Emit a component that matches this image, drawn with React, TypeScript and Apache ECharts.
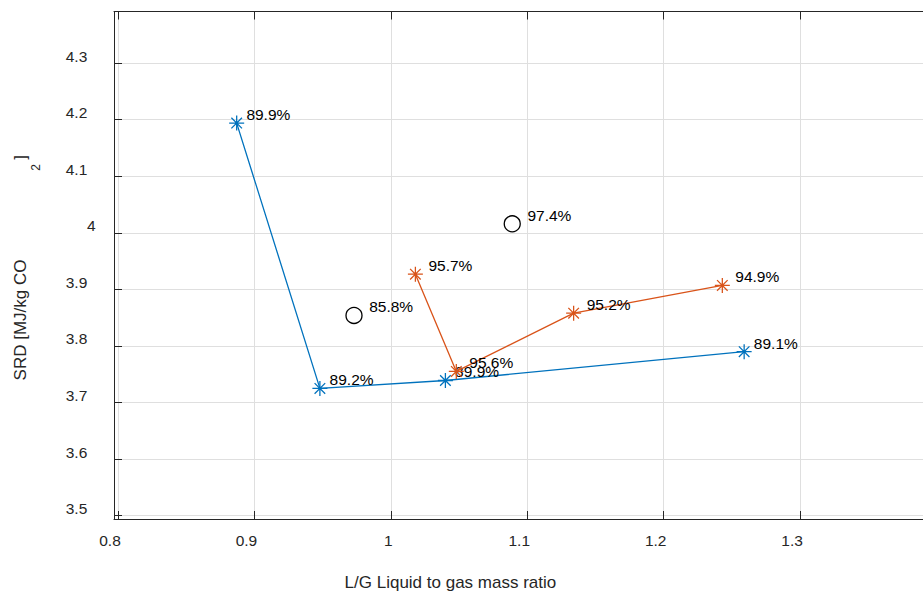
import React, { useEffect, useRef } from "react";
import * as echarts from "echarts";

// L/G ratio vs. specific reboiler duty, with capture-rate annotations
const blueLG = [0.887, 0.948, 1.04, 1.259];
const blueSRD = [4.194, 3.725, 3.739, 3.79];
const blueCapture = ["89.9%", "89.2%", "89.9%", "89.1%"];

const orangeLG = [1.018, 1.048, 1.134, 1.243];
const orangeSRD = [3.927, 3.755, 3.858, 3.907];
const orangeCapture = ["95.7%", "95.6%", "95.2%", "94.9%"];

const refLG = [0.973, 1.089];
const refSRD = [3.854, 4.016];
const refCapture = ["85.8%", "97.4%"];

const xTicks = [0.8, 0.9, 1.0, 1.1, 1.2, 1.3];
const yTicks = [3.5, 3.6, 3.7, 3.8, 3.9, 4.0, 4.1, 4.2, 4.3];

const FONT = "'Liberation Sans', Arial, Helvetica, sans-serif";
const AXIS_COLOR = "#262626";
const GRID_COLOR = "#dfdfdf";
const BLUE = "#0072BD";
const ORANGE = "#D95319";

// eight-armed asterisk marker built from four thin bars
const ASTERISK =
  "path://M-0.085,-1L0.085,-1L0.085,1L-0.085,1Z" +
  "M-1,-0.085L1,-0.085L1,0.085L-1,0.085Z" +
  "M-0.767,-0.647L-0.647,-0.767L0.767,0.647L0.647,0.767Z" +
  "M-0.647,0.767L-0.767,0.647L0.647,-0.767L0.767,-0.647Z";

const fmt = (v: number) => String(Math.round(v * 10) / 10);
const zip = (xs: number[], ys: number[]) => xs.map((x, i) => [x, ys[i]]);

const pointLabel = (texts: string[], distance: number) => ({
  show: true,
  position: "right",
  distance,
  offset: [0, -8.5],
  formatter: (p: any) => texts[p.dataIndex],
  color: "#000",
  opacity: 1,
  textBorderWidth: 0,
  textBorderColor: "transparent",
  fontSize: 15.5,
  fontFamily: FONT,
});

export default function App() {
  const ref = useRef<HTMLDivElement>(null);

  useEffect(() => {
    if (!ref.current) return;
    const chart = echarts.init(ref.current, null, { renderer: "svg" });

    const tickStyle = {
      show: true,
      inside: true,
      length: 8,
      lineStyle: { color: AXIS_COLOR, width: 1 },
    };

    chart.setOption({
      animation: false,
      backgroundColor: "#fff",
      grid: {
        left: 114,
        top: 11.5,
        width: 822.5,
        bottom: 75,
        outerBoundsMode: "none",
      },
      xAxis: [
        {
          type: "value",
          min: 0.79707,
          max: 1.4,
          axisLine: { show: true, onZero: false, lineStyle: { color: AXIS_COLOR, width: 1 } },
          axisTick: { ...tickStyle, customValues: xTicks },
          splitLine: { show: true, lineStyle: { color: GRID_COLOR, width: 1 } },
          axisLabel: {
            customValues: xTicks,
            margin: 13,
            color: AXIS_COLOR,
            fontSize: 15.5,
            fontFamily: FONT,
            formatter: (v: number) => {
              const s = fmt(v);
              return s.length === 1 ? `{o|${s}}` : `{n|${s}}`;
            },
            rich: {
              n: { padding: [0, 16, 0, 0], fontSize: 15.5, fontFamily: FONT, color: AXIS_COLOR },
              o: { padding: [0, 5, 0, 0], fontSize: 15.5, fontFamily: FONT, color: AXIS_COLOR },
            },
          },
        },
        {
          type: "value",
          position: "top",
          min: 0.79707,
          max: 1.4,
          axisLine: { show: true, onZero: false, lineStyle: { color: AXIS_COLOR, width: 1 } },
          axisTick: { ...tickStyle, customValues: xTicks },
          splitLine: { show: false },
          axisLabel: { show: false },
        },
      ],
      yAxis: {
        type: "value",
        min: 3.49416,
        max: 4.3913,
        axisLine: { show: true, onZero: false, lineStyle: { color: AXIS_COLOR, width: 1 } },
        axisTick: { ...tickStyle, customValues: yTicks },
        splitLine: { show: true, lineStyle: { color: GRID_COLOR, width: 1 } },
        axisLabel: {
          customValues: yTicks,
          margin: 18.3,
          align: "right",
          verticalAlign: "bottom",
          lineHeight: 14,
          color: AXIS_COLOR,
          fontSize: 15.5,
          fontFamily: FONT,
          formatter: (v: number) => {
            const s = fmt(v);
            return s.length === 1 ? `{o|${s}}` : `{n|${s}}`;
          },
          rich: {
            n: { padding: [0, 8.4, 0, 0], lineHeight: 14, fontSize: 15.5, fontFamily: FONT, color: AXIS_COLOR },
            o: { padding: [0, 0, 0, 0], lineHeight: 14, fontSize: 15.5, fontFamily: FONT, color: AXIS_COLOR },
          },
        },
      },
      series: [
        {
          type: "line",
          data: zip(blueLG, blueSRD),
          symbol: ASTERISK,
          symbolSize: 15,
          showAllSymbol: true,
          lineStyle: { color: BLUE, width: 1.3 },
          itemStyle: { color: BLUE, opacity: 1 },
          label: pointLabel(blueCapture, 2.2),
          z: 3,
        },
        {
          type: "line",
          data: zip(orangeLG, orangeSRD),
          symbol: ASTERISK,
          symbolSize: 15,
          showAllSymbol: true,
          lineStyle: { color: ORANGE, width: 1.3 },
          itemStyle: { color: ORANGE, opacity: 1 },
          label: pointLabel(orangeCapture, 5.5),
          z: 4,
        },
        {
          type: "scatter",
          data: zip(refLG, refSRD),
          symbol: "circle",
          symbolSize: 16,
          itemStyle: { color: "none", borderColor: "#000", borderWidth: 1.3, opacity: 1 },
          label: pointLabel(refCapture, 4.7),
          z: 5,
        },
      ],
      graphic: [
        {
          type: "text",
          x: 450.4,
          y: 582,
          style: {
            text: "L/G Liquid to gas mass ratio",
            fill: AXIS_COLOR,
            fontSize: 17,
            fontFamily: FONT,
            align: "center",
            verticalAlign: "middle",
          },
        },
        {
          type: "text",
          x: 20.5,
          y: 320,
          rotation: Math.PI / 2,
          style: {
            text: "SRD [MJ/kg CO",
            fill: AXIS_COLOR,
            fontSize: 17,
            fontFamily: FONT,
            align: "center",
            verticalAlign: "middle",
          },
        },
        {
          type: "text",
          x: 36,
          y: 167.5,
          rotation: Math.PI / 2,
          style: {
            text: "2",
            fill: AXIS_COLOR,
            fontSize: 12,
            fontFamily: FONT,
            align: "center",
            verticalAlign: "middle",
          },
        },
        {
          type: "text",
          x: 20.5,
          y: 157.5,
          rotation: Math.PI / 2,
          style: {
            text: "]",
            fill: AXIS_COLOR,
            fontSize: 17,
            fontFamily: FONT,
            align: "center",
            verticalAlign: "middle",
          },
        },
      ],
    });

    return () => chart.dispose();
  }, []);

  return (
    <div
      ref={ref}
      style={{ position: "absolute", left: 0, top: 0, width: 923, height: 594 }}
    />
  );
}
